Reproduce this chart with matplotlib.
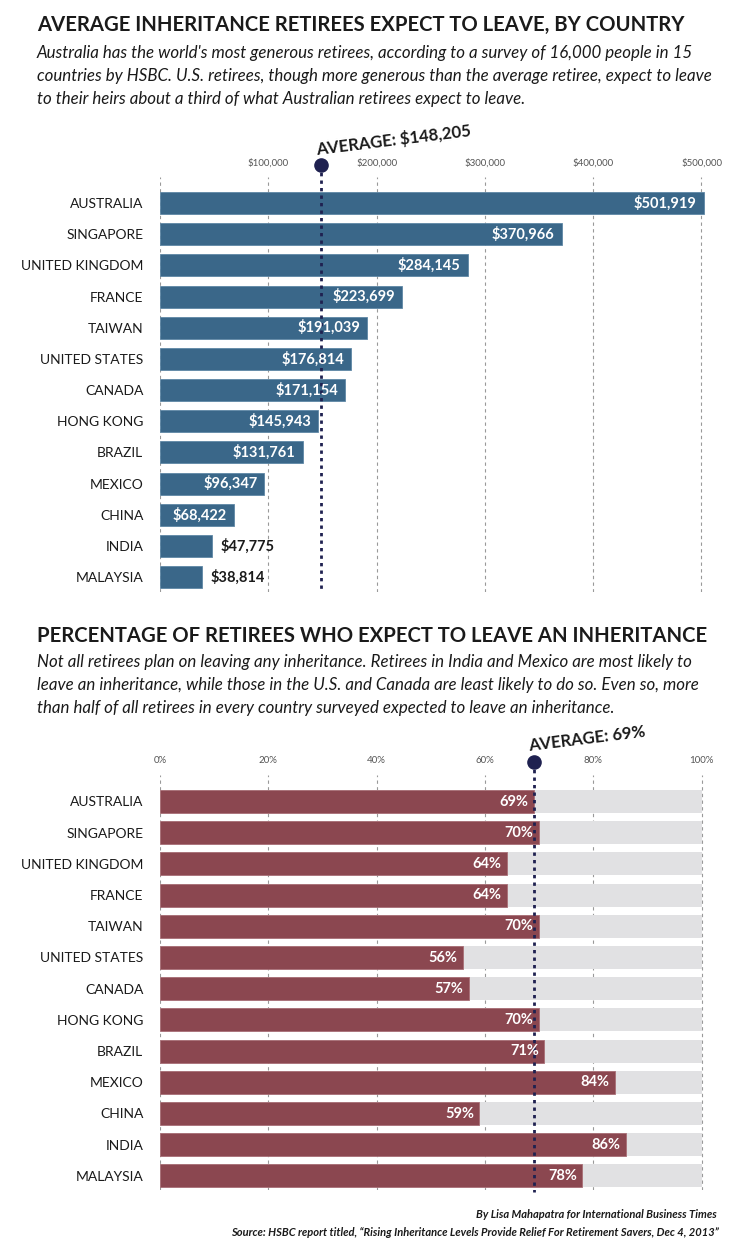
import matplotlib.pyplot as plt
from matplotlib.ticker import FuncFormatter

W, H = 736, 1250

countries = ["AUSTRALIA", "SINGAPORE", "UNITED KINGDOM", "FRANCE", "TAIWAN",
             "UNITED STATES", "CANADA", "HONG KONG", "BRAZIL", "MEXICO",
             "CHINA", "INDIA", "MALAYSIA"]
inheritance = [501919, 370966, 284145, 223699, 191039, 176814, 171154,
               145943, 131761, 96347, 68422, 47775, 38814]
avg_inheritance = 148205
money_ticks = [0, 100000, 200000, 300000, 400000, 500000]

pct_leave = [69, 70, 64, 64, 70, 56, 57, 70, 71, 84, 59, 86, 78]
avg_pct = 69
pct_ticks = [0, 20, 40, 60, 80, 100]

BLUE = "#3a6789"
RED = "#8b4750"
GREY = "#e1e1e3"
NAVY = "#1f2150"
TXT = "#1a1a1a"

plt.rcParams['font.family'] = ['Lato', 'DejaVu Sans']

fig = plt.figure(figsize=(W / 100, H / 100), dpi=100)


def fx(x):
    return x / W


def fy(y):
    return 1 - y / H


def make_axes(left, right, top, bottom):
    return fig.add_axes([fx(left), fy(bottom), (right - left) / W, (bottom - top) / H])


def setup(ax, first_px, step_px, top_px, bottom_px, ticks, fmt):
    ax.set_ylim((bottom_px - first_px) / step_px, (top_px - first_px) / step_px)
    for s in ax.spines.values():
        s.set_visible(False)
    ax.set_xticks(ticks)
    ax.xaxis.set_major_formatter(FuncFormatter(fmt))
    ax.tick_params(axis='x', top=True, labeltop=True, bottom=False, labelbottom=False,
                   length=0, pad=7, labelsize=7, labelcolor="#555555")
    ax.set_yticks(range(len(countries)))
    ax.set_yticklabels(countries)
    ax.tick_params(axis='y', length=0, pad=12, labelsize=10, labelcolor=TXT)
    ax.grid(axis='x', color="#999999", linestyle=(0, (3, 3)), linewidth=0.8)
    ax.set_axisbelow(True)


subtitle_kw = dict(fontsize=12.2, style='italic', color=TXT, va='top', ha='left', linespacing=1.55)
title_kw = dict(fontsize=14.6, fontweight='bold', color=TXT, va='center', ha='left')

# ---------- top chart ----------
fig.text(fx(37), fy(25), "AVERAGE INHERITANCE RETIREES EXPECT TO LEAVE, BY COUNTRY", **title_kw)
fig.text(fx(37), fy(45),
         "Australia has the world's most generous retirees, according to a survey of 16,000 people in 15\n"
         "countries by HSBC. U.S. retirees, though more generous than the average retiree, expect to leave\n"
         "to their heirs about a third of what Australian retirees expect to leave.",
         **subtitle_kw)

top_first, top_step = 203, 31.17
ax1 = make_axes(160, 729, 177, 592)
ax1.set_xlim(0, 569 / 1.083 * 1000)
setup(ax1, top_first, top_step, 177, 592, money_ticks,
      lambda v, p: "" if v == 0 else f"${v:,.0f}")
ax1.barh(range(len(countries)), inheritance, height=22 / top_step, color=BLUE,
         edgecolor="#5f88a6", linewidth=0.6, zorder=2)
for i, v in enumerate(inheritance):
    if v > 60000:
        ax1.annotate(f"${v:,}", (v, i), xytext=(-5, 0), textcoords='offset points', zorder=5,
                     ha='right', va='center', color='white', fontsize=10.5, fontweight='bold')
    else:
        ax1.annotate(f"${v:,}", (v, i), xytext=(6, 0), textcoords='offset points', zorder=5,
                     ha='left', va='center', color=TXT, fontsize=10.5, fontweight='bold')
dot_y1 = (165 - top_first) / top_step
ax1.plot([avg_inheritance, avg_inheritance], [dot_y1, (592 - top_first) / top_step],
         color=NAVY, linestyle=(0, (1.2, 1.5)), linewidth=2, zorder=3, clip_on=False)
ax1.plot([avg_inheritance], [dot_y1], 'o', color=NAVY, markersize=9.5, zorder=4, clip_on=False)
ax1.annotate(f"AVERAGE: ${avg_inheritance:,}", (avg_inheritance, dot_y1), xytext=(-3, 7),
             textcoords='offset points', rotation=7, rotation_mode='anchor', annotation_clip=False,
             ha='left', va='baseline', fontsize=12, fontweight='bold', color=TXT)

# ---------- bottom chart ----------
fig.text(fx(37), fy(636), "PERCENTAGE OF RETIREES WHO EXPECT TO LEAVE AN INHERITANCE", **title_kw)
fig.text(fx(37), fy(654),
         "Not all retirees plan on leaving any inheritance. Retirees in India and Mexico are most likely to\n"
         "leave an inheritance, while those in the U.S. and Canada are least likely to do so. Even so, more\n"
         "than half of all retirees in every country surveyed expected to leave an inheritance.",
         **subtitle_kw)

bot_first, bot_step = 801.5, 31.2
ax2 = make_axes(160, 715, 775, 1190)
ax2.set_xlim(0, 555 / 541.5 * 100)
setup(ax2, bot_first, bot_step, 775, 1190, pct_ticks, lambda v, p: f"{v:.0f}%")
ax2.barh(range(len(countries)), [100] * len(countries), height=23 / bot_step, color=GREY, zorder=1)
ax2.barh(range(len(countries)), pct_leave, height=23 / bot_step, color=RED,
         edgecolor="#a86e76", linewidth=0.6, zorder=2)
for i, v in enumerate(pct_leave):
    ax2.annotate(f"{v}%", (v, i), xytext=(-4, 0), textcoords='offset points', zorder=5,
                 ha='right', va='center', color='white', fontsize=10.5, fontweight='bold')
dot_y2 = (762 - bot_first) / bot_step
ax2.plot([avg_pct, avg_pct], [dot_y2, (1192 - bot_first) / bot_step],
         color=NAVY, linestyle=(0, (1.2, 1.5)), linewidth=2, zorder=3, clip_on=False)
ax2.plot([avg_pct], [dot_y2], 'o', color=NAVY, markersize=9.5, zorder=4, clip_on=False)
ax2.annotate(f"AVERAGE: {avg_pct}%", (avg_pct, dot_y2), xytext=(-3, 8),
             textcoords='offset points', rotation=7, rotation_mode='anchor', annotation_clip=False,
             ha='left', va='baseline', fontsize=12, fontweight='bold', color=TXT)

# ---------- footer ----------
fig.text(fx(717), fy(1215), "By Lisa Mahapatra for International Business Times",
         fontsize=8, fontweight='bold', style='italic', color=TXT, ha='right', va='center')
fig.text(fx(719), fy(1232),
         "Source: HSBC report titled, \u201cRising Inheritance Levels Provide Relief For Retirement Savers, Dec 4, 2013\u201d",
         fontsize=8, fontweight='bold', style='italic', color=TXT, ha='right', va='center')

fig.savefig("out.png", dpi=100, facecolor='white')
